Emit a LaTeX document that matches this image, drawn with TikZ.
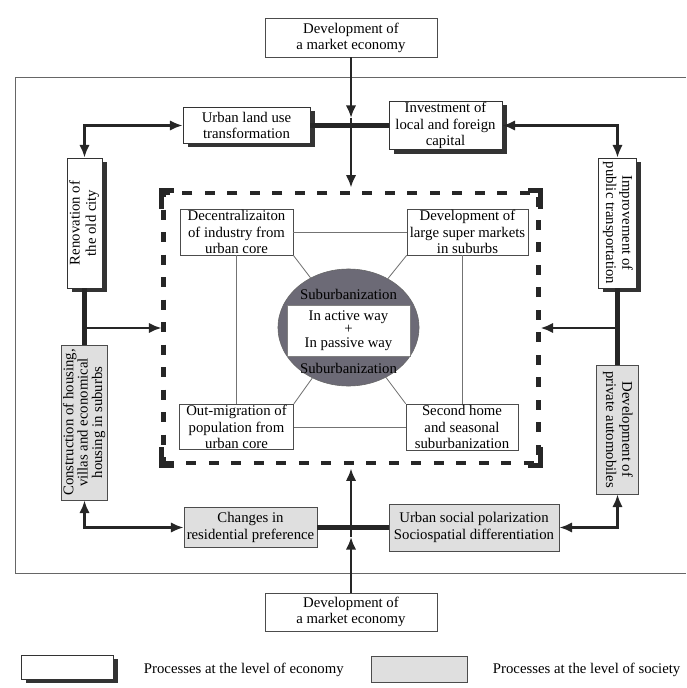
\documentclass[tikz,border=0pt]{standalone}
\usepackage{fontspec}
\setmainfont{Liberation Serif}
\usepackage{graphicx}
\usetikzlibrary{arrows.meta,shapes.geometric,shadows}

\definecolor{discgray}{RGB}{108,106,118}

\begin{document}
\begin{tikzpicture}[
  x=0.025cm, y=-0.025cm,
  font=\fontsize{10.5}{11.5}\selectfont,
  ebox/.style={draw=black!80, line width=0.5pt, fill=white, align=center, inner sep=1pt,
    drop shadow={shadow xshift=3.5pt, shadow yshift=-2.8pt, fill=black!80, opacity=1}},
  sbox/.style={draw=black!70, line width=0.5pt, fill=gray!25, align=center, inner sep=1pt},
  ibox/.style={draw=black!70, line width=0.5pt, fill=white, align=center, inner sep=1pt},
  dbox/.style={draw=black!85, line width=3.5pt, dash pattern=on 7pt off 9pt},
  dcorner/.style={draw=black!85, line width=3.5pt, line cap=rect, miter limit=4},
  arr/.style={-{Latex[length=9pt,width=7.5pt]}, line width=2pt, black!85},
  arrs/.style={{Latex[length=9pt,width=7.5pt]}-{Latex[length=9pt,width=7.5pt]}, line width=2pt, black!85},
  hbar/.style={line width=3.5pt, black!85},
  vbar/.style={line width=3pt, black!85},
  link/.style={draw=black!55, line width=0.6pt},
  frame/.style={draw=black!60, line width=0.6pt}
]
\useasboundingbox (0,0) rectangle (686,688);

% outer frame
\draw[frame] (686,77) -- (15,77) -- (15,573) -- (686,573);

% market economy, top and bottom
\node[ibox, minimum width=4.3cm, minimum height=0.975cm] (topdev) at (351,37.5) {Development of\\a market economy};
\node[ibox, minimum width=4.3cm, minimum height=0.95cm] (botdev) at (351,612) {Development of\\a market economy};

% economy boxes
\node[ebox, minimum width=3.175cm, minimum height=0.9cm] (landuse) at (246.5,125.5) {Urban land use\\transformation};
\node[ebox, minimum width=2.825cm, minimum height=1.125cm] (invest) at (445.5,125.5) {Investment of\\local and foreign\\capital};
\node[ebox, minimum width=0.875cm, minimum height=3.25cm] (reno) at (84.5,223)
  {\rotatebox{90}{\begin{tabular}{@{}c@{}}Renovation of\\the old city\end{tabular}}};
\node[ebox, minimum width=0.95cm, minimum height=3.25cm] (improv) at (617.5,223)
  {\rotatebox{-90}{\begin{tabular}{@{}c@{}}Improvement of\\public transportation\end{tabular}}};

% society boxes
\node[sbox, minimum width=1.1cm, minimum height=3.875cm] (constr) at (84.5,422.5)
  {\rotatebox{90}{\fontsize{10.5}{9.8}\selectfont\begin{tabular}{@{}c@{}}Construction of housing,\\villas and economical\\housing in suburbs\end{tabular}}};
\node[sbox, minimum width=1.05cm, minimum height=3.225cm] (autos) at (617.5,429.5)
  {\rotatebox{-90}{\begin{tabular}{@{}c@{}}Development of\\private automobiles\end{tabular}}};
\node[sbox, minimum width=3.325cm, minimum height=1.0cm] (changes) at (250.5,527.5) {Changes in\\residential preference};
\node[sbox, minimum width=4.25cm, minimum height=1.175cm] (polar) at (474,527.5) {Urban social polarization\\Sociospatial differentiation};

% suburbanization core
\node[dbox, minimum width=9.35cm, minimum height=6.75cm] (core) at (351,328) {};
\draw[dcorner] (core.north west) ++(0,16) -- ++(0,-16) -- ++(10,0);
\draw[dcorner] (core.north east) ++(0,16) -- ++(0,-16) -- ++(-10,0);
\draw[dcorner] (core.south west) ++(0,-16) -- ++(0,16) -- ++(10,0);
\draw[dcorner] (core.south east) ++(0,-16) -- ++(0,16) -- ++(-10,0);

\node[ibox, minimum width=2.825cm, minimum height=1.15cm] (dec) at (236.5,232) {Decentralizaiton\\of industry from\\urban core};
\node[ibox, minimum width=3.025cm, minimum height=1.15cm] (super) at (467.5,232) {Development of\\large super markets\\in suburbs};
\node[ibox, minimum width=2.85cm, minimum height=1.125cm] (outm) at (236.5,427) {Out-migration of\\population from\\urban core};
\node[ibox, minimum width=2.8cm, minimum height=1.15cm] (second) at (462,427) {Second home\\and seasonal\\suburbanization};

\node[ellipse, draw=black!60, fill=discgray, minimum width=3.525cm, minimum height=2.925cm] (circ) at (348.5,327.5) {};
\node[draw=black!50, fill=white, line width=0.4pt, minimum width=3.075cm, minimum height=1.275cm, align=center, inner sep=0pt,
  font=\fontsize{10.5}{9.5}\selectfont] (way) at (348.5,330.5) {In active way\\+\\In passive way};
\node (sub1) at (348.5,294) {Suburbanization};
\node (sub2) at (348.5,368) {Suburbanization};

\draw[link] (dec.east) -- (super.west);
\draw[link] (outm.east) -- (second.west);
\draw[link] (dec.south) -- (outm.north);
\draw[link] (second.north) -- (second.north |- super.south);
\draw[link] (dec.south east) -- (circ);
\draw[link] (super.south west) -- (circ);
\draw[link] (outm.north east) -- (circ);
\draw[link] (second.north west) -- (circ);

% connectors
\coordinate (tmid) at (351,118);
\coordinate (bmid) at (351,537);
\draw[hbar] (landuse.east) -- (invest.west);
\draw[hbar] (changes.east) -- (polar.west);
\draw[arr] (topdev.south) -- (tmid);
\draw[arr, shorten >=2pt] (tmid) -- (core.north);
\draw[arr] (botdev.north) -- (bmid);
\draw[arr, shorten >=2pt] (bmid) -- (core.south);

\draw[arrs] (reno.north) |- (landuse.west);
\draw[arrs] (improv.north) |- (invest.east);
\draw[arrs] (constr.south) |- (changes.west);
\draw[arrs] (autos.south) |- (polar.east);

\draw[vbar] (reno.south) -- (constr.north);
\draw[vbar] (improv.south) -- (autos.north);
\draw[arr] (reno.south |- core.west) -- (core.west);
\draw[arr] (improv.south |- core.east) -- (core.east);

% legend
\node[ebox, minimum width=2.3cm, minimum height=0.6cm] (legeco) at (67,667) {};
\node[anchor=west] (legecot) at (139,670) {Processes at the level of economy};
\node[sbox, minimum width=2.4cm, minimum height=0.65cm] (legsoc) at (419,669) {};
\node[anchor=west] (legsoct) at (488,670) {Processes at the level of society};
\end{tikzpicture}
\end{document}
